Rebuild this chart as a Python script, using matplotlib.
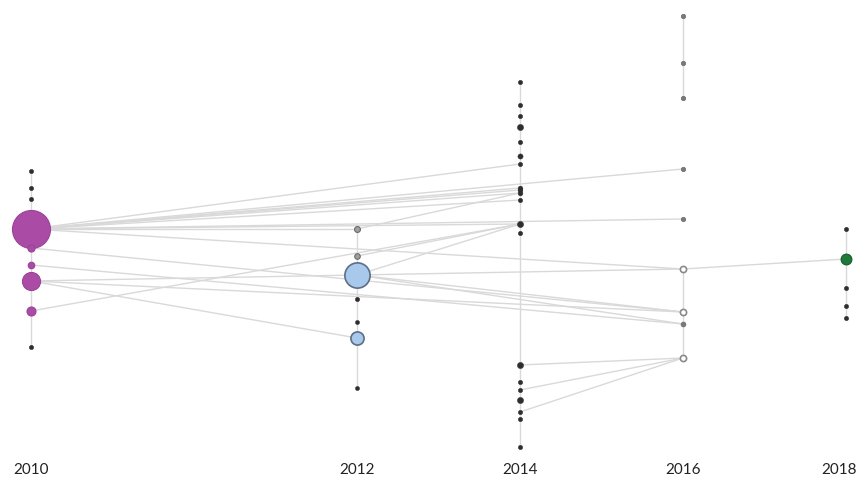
import matplotlib
matplotlib.use("Agg")
import matplotlib.pyplot as plt

# Columns (years) and their horizontal slot (2011 gap kept)
years = [2010, 2012, 2014, 2016, 2018]
slots = [0, 2, 3, 4, 5]

# Node vertical positions (rank from top) and sizes per year
y_2010 = [171, 188, 199, 229, 248, 265, 281, 311, 347]
s_2010 = [10, 10, 10, 750, 26, 22, 170, 42, 10]
c_2010 = ["dot", "dot", "dot", "p", "p", "p", "p", "p", "dot"]

y_2012 = [229, 256, 275, 299, 322, 338, 388]
s_2012 = [18, 16, 330, 10, 9, 90, 9]
c_2012 = ["g", "g", "b", "dot", "dot", "b", "dot"]

y_2014 = [82, 105, 116, 127, 142, 156, 164, 188, 190, 193, 200, 224, 233,
          365, 382, 390, 400, 412, 419, 447]
s_2014 = [10, 10, 10, 20, 10, 14, 10, 12, 12, 12, 10, 20, 10,
          20, 10, 10, 20, 10, 10, 10]

y_2016 = [16, 63, 98, 169, 219, 269, 312, 324, 358]
s_2016 = [10, 10, 10, 10, 10, 20, 20, 12, 20]
c_2016 = ["gdot", "gdot", "gdot", "gdot", "gdot", "ring", "ring", "gdot", "ring"]

y_2018 = [229, 259, 288, 306, 318]
s_2018 = [10, 60, 10, 10, 10]
c_2018 = ["dot", "green", "dot", "dot", "dot"]

# Vertical connectors per year: (year, top, bottom)
verticals = [(2010, 171, 347), (2012, 229, 388), (2014, 82, 447),
             (2016, 16, 98), (2016, 269, 358), (2018, 229, 318)]

# Links between nodes: (year_a, y_a, year_b, y_b)
links = [
    (2010, 229, 2014, 164), (2010, 229, 2014, 188), (2010, 229, 2014, 190),
    (2010, 229, 2014, 193), (2010, 229, 2014, 200), (2010, 229, 2014, 224),
    (2010, 229, 2012, 229), (2010, 229, 2016, 169), (2010, 229, 2016, 219),
    (2010, 229, 2016, 269), (2010, 248, 2016, 312),
    (2010, 265, 2016, 324), (2010, 281, 2012, 338), (2010, 281, 2016, 312),
    (2010, 281, 2012, 275), (2010, 311, 2014, 224),
    (2012, 229, 2014, 193), (2012, 256, 2014, 224), (2012, 275, 2014, 224),
    (2012, 275, 2016, 269), (2012, 275, 2016, 312), (2012, 275, 2016, 324),
    (2016, 269, 2018, 259),
    (2014, 365, 2016, 358), (2014, 390, 2016, 358), (2014, 412, 2016, 358),
]

slot = dict(zip(years, slots))

fig = plt.figure(figsize=(8.62, 4.79), dpi=100)
ax = fig.add_axes([0, 0, 1, 1])
ax.set_xlim(-31 / 163, (862 - 31) / 163)
ax.set_ylim(479, 0)
ax.axis("off")

line_col = "#d9d9d9"
for yr, a, b in verticals:
    ax.plot([slot[yr], slot[yr]], [a, b], color=line_col, lw=1.0, zorder=1)
for ya, a, yb, b in links:
    ax.plot([slot[ya], slot[yb]], [a, b], color=line_col, lw=1.0, zorder=1)

styles = {
    "dot": dict(fc="#2e2e2e", ec="#2e2e2e", lw=0.3),
    "gdot": dict(fc="#7a7a7a", ec="#6a6a6a", lw=0.5),
    "g": dict(fc="#a0a0a0", ec="#6a6a6a", lw=0.8),
    "p": dict(fc="#aa4ca6", ec="#9c4298", lw=0.8),
    "b": dict(fc="#a8c8ec", ec="#5c6f86", lw=1.2),
    "ring": dict(fc="white", ec="#8a8a8a", lw=1.2),
    "green": dict(fc="#1d7a3a", ec="#155c2b", lw=0.8),
}

def draw(yr, ys, ss, cs):
    for y, s, c in zip(ys, ss, cs):
        st = styles[c]
        ax.scatter([slot[yr]], [y], s=s, facecolor=st["fc"], edgecolor=st["ec"],
                   linewidths=st["lw"], zorder=3)

draw(2010, y_2010, s_2010, c_2010)
draw(2012, y_2012, s_2012, c_2012)
draw(2014, y_2014, s_2014, ["dot"] * len(y_2014))
draw(2016, y_2016, s_2016, c_2016)
draw(2018, y_2018, s_2018, c_2018)

for i, yr in enumerate(years):
    if i == len(years) - 1:
        ax.text(slot[yr] + 11 / 163, 470, str(yr), ha="right", va="center",
                fontsize=11, color="#222222", family="Lato")
    else:
        ax.text(slot[yr], 470, str(yr), ha="center", va="center", fontsize=11,
                color="#222222", family="Lato")

fig.savefig("out.png", dpi=100)
